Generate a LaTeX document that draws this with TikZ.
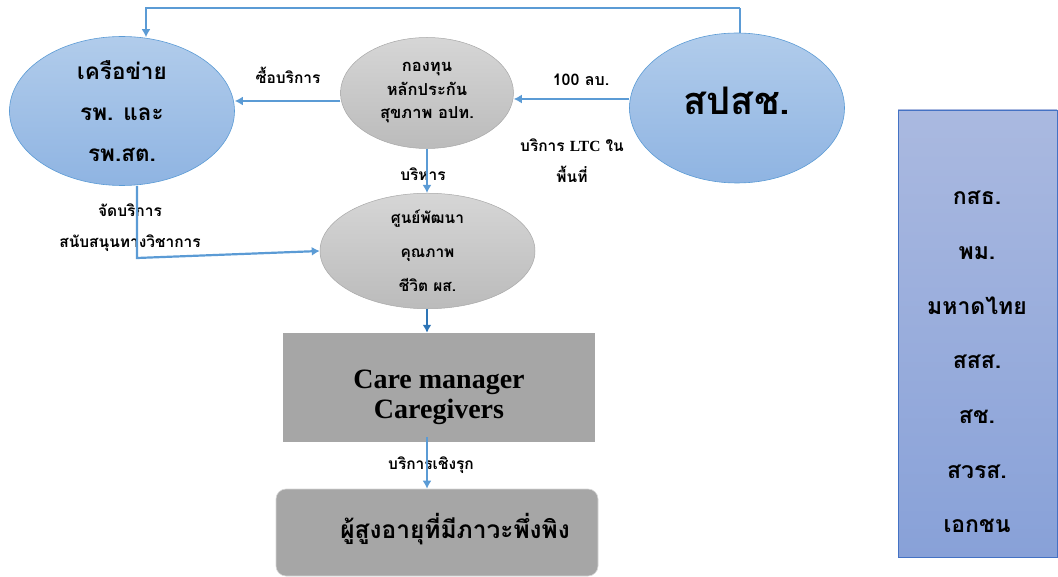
\documentclass[tikz,border=0pt]{standalone}
\usepackage{fontspec}
\setmainfont{Liberation Serif}
\newfontfamily\thai[Script=Thai]{Loma}
\usetikzlibrary{shapes.geometric,arrows.meta,calc}
\definecolor{arrblue}{HTML}{5B9BD5}
\definecolor{arrdark}{HTML}{2E75B6}
\definecolor{bluetop}{HTML}{B1CCEB}
\definecolor{bluebot}{HTML}{8FB4E2}
\definecolor{greytop}{HTML}{D6D6D6}
\definecolor{greybot}{HTML}{BBBBBB}
\definecolor{boxgrey}{HTML}{A6A6A6}
\definecolor{orgtop}{HTML}{AAB9E0}
\definecolor{orgbot}{HTML}{88A1D8}
\definecolor{orgborder}{HTML}{4472C4}
\tikzset{
  arr/.style={draw=arrblue,line width=2.2pt,-{Latex[length=8pt,width=9pt]}},
  arrd/.style={draw=arrdark,line width=2.2pt,-{Latex[length=8pt,width=9pt]}},
  blueell/.style={ellipse,draw=arrblue,line width=0.6pt,top color=bluetop,bottom color=bluebot,inner sep=0pt,align=center},
  greyell/.style={ellipse,draw=greybot!90!black,line width=0.5pt,top color=greytop,bottom color=greybot,inner sep=0pt,align=center},
  lbl/.style={font=\thai\bfseries\fontsize{15.5}{31}\selectfont,align=center,inner sep=0pt},
}
\begin{document}
\begin{tikzpicture}[x=1pt,y=-1pt]
\useasboundingbox (0,0) rectangle (1058,577);
% nodes
\node[blueell,minimum width=225pt,minimum height=149pt,font=\thai\bfseries\fontsize{22.5}{41}\selectfont] (net) at (122,111) {เครือข่าย\\รพ. และ\\รพ.สต.};
\node[greyell,minimum width=173pt,minimum height=111pt,font=\thai\bfseries\fontsize{16.5}{23.5}\selectfont] (fund) at (427,93) {กองทุน\\หลักประกัน\\สุขภาพ อปท.};
\node[blueell,minimum width=215pt,minimum height=150pt,font=\thai\bfseries\fontsize{38}{44}\selectfont] (sp) at (737,108) {\raisebox{7pt}[\height][\depth]{สปสช.}};
\node[greyell,minimum width=215pt,minimum height=112pt,font=\thai\bfseries\fontsize{15.5}{34}\selectfont] (qual) at (427.5,251) {ศูนย์พัฒนา\\คุณภาพ\\ชีวิต ผส.};
\node[rectangle,fill=boxgrey,minimum width=312pt,minimum height=109pt,inner sep=0pt,font=\bfseries\fontsize{28}{30}\selectfont] (cm) at (439,387.5) {\raisebox{-10pt}[\height][\depth]{\begin{tabular}{@{}c@{}}Care manager\\Caregivers\end{tabular}}};
\node[rectangle,rounded corners=10pt,fill=boxgrey,draw=greytop,line width=0.6pt,minimum width=322pt,minimum height=87pt,inner sep=0pt,font=\thai\bfseries\fontsize{24.5}{30}\selectfont] (eld) at (437,532.5) {\hspace*{36pt}\raisebox{3pt}[\height][\depth]{ผู้สูงอายุที่มีภาวะพึ่งพิง}};
\node[rectangle,draw=orgborder,line width=0.8pt,top color=orgtop,bottom color=orgbot,minimum width=159pt,minimum height=447pt,inner sep=0pt] (orgbox) at (977.5,333.5) {};
\node[font=\thai\bfseries\fontsize{23}{54.7}\selectfont,align=center,inner sep=0pt] (orgs) at (977,362) {กสธ.\\พม.\\มหาดไทย\\สสส.\\สช.\\สวรส.\\เอกชน};
% labels
\node[lbl] (lbuy) at (288,75) {ซื้อบริการ};
\node[lbl] (l100) at (581,80) {\bfseries\fontsize{16}{20}\selectfont 100 {\thai ลบ.}};
\node[lbl] (lltc) at (572,161) {บริการ {\rmfamily LTC} ใน\\พื้นที่};
\node[lbl] (ladm) at (423,174) {บริหาร};
\node[lbl] (lsup) at (130,228) {จัดบริการ\\สนับสนุนทางวิชาการ};
\node[lbl] (lpro) at (431,465) {บริการเชิงรุก};
% connectors
\coordinate (topR) at (740,8);
\coordinate (topL) at (146,8);
\coordinate (bendNQ) at (137,258);
\draw[arr,-] (sp.north -| topR) -- (topR);
\draw[arr] (topR) -- (topL) -- ($(net.north -| topL)+(0,1)$);
\draw[arr] ([yshift=9pt]sp.west) -- ([yshift=9pt]sp.west -| fund.east);
\draw[arr] ([yshift=-8pt]fund.west) -- ([yshift=-8pt]fund.west -| net.east);
\draw[arr] (fund.south) -- (qual.north -| fund.south);
\draw[arr] (net.south -| bendNQ) -- (bendNQ) -- (qual.west);
\draw[arrd] (qual.south -| fund.south) -- (cm.north -| fund.south);
\draw[arr] ([yshift=5pt]cm.south -| fund.south) -- (eld.north -| fund.south);
\end{tikzpicture}
\end{document}
